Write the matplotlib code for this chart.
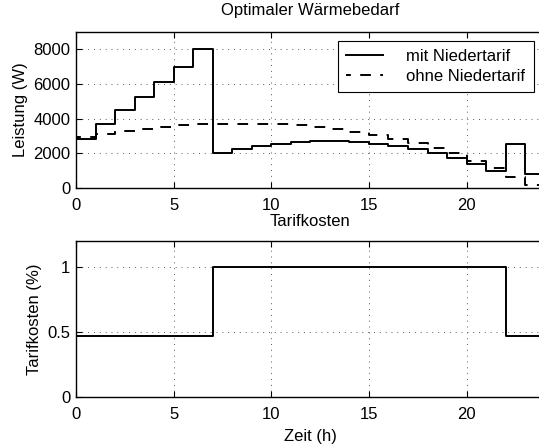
import matplotlib
matplotlib.use("Agg")
import matplotlib.pyplot as plt
import numpy as np

plt.rcParams['font.family'] = ['Liberation Sans', 'DejaVu Sans']
plt.rcParams['font.size'] = 12

# Stunden 0..23, Stufenwerte je Stunde
hours = np.arange(24)
mit_niedertarif = [2810, 3680, 4500, 5270, 6100, 6980, 8000, 2000, 2230, 2420,
                   2560, 2650, 2710, 2710, 2640, 2560, 2420, 2250, 2000, 1720,
                   1380, 970, 2510, 800]
ohne_niedertarif = [2920, 3115, 3290, 3400, 3540, 3635, 3670, 3690, 3690, 3685,
                    3670, 3615, 3500, 3385, 3230, 3080, 2850, 2600, 2290, 2000,
                    1560, 1135, 615, 175]
tarif = [0.47] * 7 + [1.0] * 15 + [0.47] * 2

W, H = 539, 446
fig = plt.figure(figsize=(W / 100, H / 100), dpi=100)


def px_axes(left, top, right, bottom):
    return fig.add_axes([left / W, 1 - bottom / H, (right - left) / W, (bottom - top) / H])


def style(ax):
    ax.tick_params(direction='in', length=4, width=0.8, top=True, right=True)
    ax.tick_params(axis='x', pad=7)
    ax.tick_params(axis='y', pad=4)
    for s in ax.spines.values():
        s.set_linewidth(1.0)
    ax.grid(True, linestyle=(0, (1, 5)), color='0.35', linewidth=0.7)
    ax.set_xlim(0, 24)
    ax.set_xticks([0, 5, 10, 15, 20])


def stairs(vals):
    x = np.append(hours, 24)
    y = np.append(vals, vals[-1])
    return x, y


ax1 = px_axes(76, 32, 544.7, 188)
style(ax1)
x, y = stairs(mit_niedertarif)
ax1.step(x, y, where='post', color='k', lw=1.4, label='mit Niedertarif')
x, y = stairs(ohne_niedertarif)
ax1.step(x, y, where='post', color='k', lw=1.4, linestyle=(3, (5.5, 4.8)),
         label='ohne Niedertarif')
ax1.set_ylim(0, 9000)
ax1.set_yticks([0, 2000, 4000, 6000, 8000])
ax1.set_ylabel('Leistung (W)')
ax1.set_title('Optimaler Wärmebedarf', fontsize=12, pad=12)
leg = ax1.legend(loc='upper left', bbox_to_anchor=(338 / W, 1 - 40.7 / H),
                 bbox_transform=fig.transFigure, fancybox=False,
                 edgecolor='k', framealpha=1, handlelength=2.2,
                 handletextpad=1.4, borderpad=0.5, labelspacing=0.3,
                 borderaxespad=0)
leg.get_frame().set_linewidth(0.8)

ax2 = px_axes(76, 241, 544.7, 397)
style(ax2)
x, y = stairs(tarif)
ax2.step(x, y, where='post', color='k', lw=1.4)
ax2.set_ylim(0, 1.2)
ax2.set_yticks([0, 0.5, 1])
ax2.set_yticklabels(['0', '0.5', '1'])
ax2.set_ylabel('Tarifkosten (%)')
ax2.set_xlabel('Zeit (h)', labelpad=5)
ax2.set_title('Tarifkosten', fontsize=12, pad=11)

fig.savefig('out.png', dpi=100)
